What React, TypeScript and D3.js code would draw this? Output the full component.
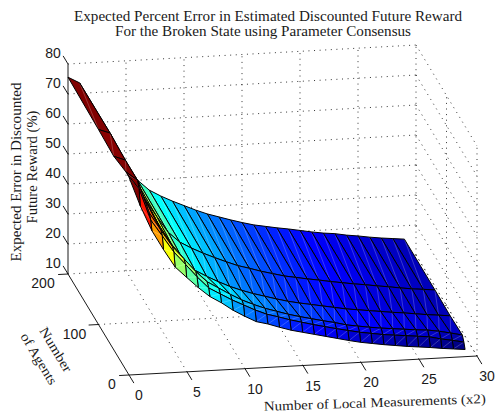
import React from 'react';
import * as d3 from 'd3';

const measurements = d3.range(0, 30);
const agents = [1, 5, 10, 50, 100, 200];

// expected error, one list per agent count
const errorAgents1 = [76, 66, 57.5, 51, 45, 41.3, 37.7, 34.5, 32.2, 29.5, 27.3, 25.3, 24.3, 23, 21.8, 20.9, 20, 19.1, 18.2, 17.3, 16.5, 15.9, 15.3, 14.8, 14.3, 13.9, 13.5, 13, 12.6, 12.2];
const errorAgents5 = [76, 71, 60.4, 54.9, 49.3, 45, 40.6, 36.7, 34.5, 32.3, 30.4, 28.5, 26.9, 25.8, 24.6, 23.6, 22.6, 21.7, 20.8, 20, 19.2, 18.6, 18, 17.6, 17.2, 16.8, 16.4, 15.5, 14.8, 14];
const errorAgents10 = [76, 73, 62, 56, 50.3, 46, 41.6, 37.9, 35.6, 33.3, 31.2, 29.5, 28, 26.8, 25.6, 24.6, 23.7, 22.8, 22, 21, 20.4, 19.8, 19.3, 18.9, 18.5, 18.1, 17.8, 17.2, 16.4, 15.5];
const errorAgents50 = [74.5, 73, 64, 57, 50, 44, 38.5, 35, 32.8, 30.8, 29, 27.5, 26.2, 25.1, 24, 23, 22.2, 21.5, 20.8, 20.1, 19.4, 18.9, 18.4, 17.9, 17.4, 17, 16.5, 16, 15.6, 15.2];
const errorAgents100 = [75, 73.6, 65, 58, 51, 45, 39.5, 36, 33.8, 31.9, 30.2, 28.6, 27.1, 26, 24.8, 23.8, 22.8, 22.1, 21.4, 20.8, 20.1, 19.5, 18.9, 18.4, 17.8, 17.3, 16.7, 16.2, 15.8, 15.4];
const errorAgents200 = [75.6, 73.5, 65.9, 59, 52.5, 45.8, 40, 36.5, 34.3, 32.4, 30.7, 29, 27.5, 26.3, 25.1, 24, 23, 22.3, 21.6, 21, 20.3, 19.6, 19, 18.6, 17.9, 17.4, 16.8, 16.3, 15.9, 15.5];
const errors = [errorAgents1, errorAgents5, errorAgents10, errorAgents50, errorAgents100, errorAgents200];

const xTicks = [0, 5, 10, 15, 20, 25, 30];
const yTicks = [0, 100, 200];
const zTicks = [10, 20, 30, 40, 50, 60, 70, 80];

const titleLines = [
  'Expected Percent Error in Estimated Discounted Future Reward',
  'For the Broken State using Parameter Consensus',
];

// the axes box as it lands on screen (matlab style orthographic view)
const origin = [129, 375];
const xVec = [348, -19];
const yVec = [-61, -101];
const zVec = [0, -210];

const xScale = d3.scaleLinear().domain([0, 30]).range([0, 1]);
const yScale = d3.scaleLinear().domain([0, 200]).range([0, 1]);
const zScale = d3.scaleLinear().domain([10, 80]).range([0, 1]);

const project = (x: number, y: number, z: number): [number, number] => {
  const u = xScale(x), v = yScale(y), w = zScale(z);
  return [
    origin[0] + u * xVec[0] + v * yVec[0] + w * zVec[0],
    origin[1] + u * xVec[1] + v * yVec[1] + w * zVec[1],
  ];
};

const jet = d3.scaleLinear<string>()
  .domain([0, 0.125, 0.375, 0.625, 0.875, 1])
  .range(['#000080', '#0000ff', '#00ffff', '#ffff00', '#ff0000', '#800000']);

const colorScale = d3.scaleLinear()
  .domain([d3.min(errors.flat()) as number, 75])
  .range([0, 1])
  .clamp(true);

const line = d3.line();
const closed = d3.line().curve(d3.curveLinearClosed);

const seg = (a: [number, number], b: [number, number]) => line([a, b]) as string;

const sans = '"Liberation Sans", Arial, sans-serif';
const serif = '"Liberation Serif", serif';
const inkColor = '#1a1a1a';
const dots = '1 4.6';

export default function App() {
  // far faces first, right to left so the steep ridge ends up on top
  const faces: React.ReactNode[] = [];
  for (let i = measurements.length - 2; i >= 0; i--) {
    for (let j = agents.length - 2; j >= 0; j--) {
      const a = project(measurements[i], agents[j], errors[j][i]);
      const b = project(measurements[i + 1], agents[j], errors[j][i + 1]);
      const c = project(measurements[i + 1], agents[j + 1], errors[j + 1][i + 1]);
      const d = project(measurements[i], agents[j + 1], errors[j + 1][i]);
      faces.push(
        <g key={`${i}-${j}`}>
          <path d={closed([a, b, c, d]) as string} fill={jet(colorScale(errors[j][i]))} stroke="none" />
          <path d={seg(a, c)} stroke="#fff" strokeOpacity={0.28} strokeWidth={0.8} fill="none" />
          <path d={closed([a, b, c, d]) as string} fill="none" stroke="#000" strokeWidth={1} strokeLinejoin="round" />
        </g>
      );
    }
  }

  return (
    <svg width={498} height={416} style={{ position: 'absolute', left: 0, top: 0, background: '#fff' }}>
      {/* grid on back wall, side wall and floor */}
      <g stroke="#000" strokeWidth={0.8} strokeDasharray={dots} fill="none">
        {zTicks.map(z => <path key={`bz${z}`} d={seg(project(0, 200, z), project(30, 200, z))} />)}
        {zTicks.map(z => <path key={`sz${z}`} d={seg(project(30, 200, z), project(30, 0, z))} />)}
        {xTicks.slice(1).map(x => <path key={`bx${x}`} d={seg(project(x, 200, 10), project(x, 200, 80))} />)}
        {yTicks.slice(0, 2).map(y => <path key={`sy${y}`} d={seg(project(30, y, 10), project(30, y, 80))} />)}
        {xTicks.slice(1, 7).map(x => <path key={`fx${x}`} d={seg(project(x, 0, 10), project(x, 200, 10))} />)}
        <path d={seg(project(0, 100, 10), project(30, 100, 10))} />
      </g>

      {faces}

      {/* axis lines and ticks */}
      <g stroke="#000" strokeWidth={0.9} fill="none">
        <path d={seg(project(0, 200, 10), project(0, 200, 80))} />
        <path d={seg(project(0, 200, 10), project(0, 0, 10))} />
        <path d={seg(project(0, 0, 10), project(30, 0, 10))} />
        {xTicks.map(x => <path key={x} d={seg(project(x, 0, 10), project(x, -16, 10))} />)}
        {yTicks.map(y => <path key={y} d={seg(project(0, y, 10), project(-0.85, y, 10))} />)}
        {zTicks.map(z => <path key={z} d={seg(project(0, 200, z), project(0, 216, z))} />)}
      </g>

      <g fontFamily={sans} fontSize={14} fill={inkColor} textAnchor="middle" dominantBaseline="central">
        {xTicks.map(x => {
          const [px, py] = project(x, 0, 10);
          return <text key={x} x={px + 10} y={py + 20}>{x}</text>;
        })}
        {yTicks.map(y => {
          const [px, py] = project(0, y, 10);
          return <text key={y} x={px - (y === 0 ? 17 : y === 100 ? 24 : 25)} y={py + 9}>{y}</text>;
        })}
        {zTicks.map(z => {
          const [px, py] = project(0, 200, z);
          return <text key={z} x={px - 15} y={py - 11}>{z}</text>;
        })}
      </g>

      <g fontFamily={serif} fill={inkColor} fontSize={13.6} textAnchor="middle">
        <text x={268} y={21} textLength={388} lengthAdjust="spacingAndGlyphs">{titleLines[0]}</text>
        <text x={263} y={36} textLength={296} lengthAdjust="spacingAndGlyphs">{titleLines[1]}</text>
        <text transform="translate(21,172) rotate(-90)" fontSize={14.5} textLength={179} lengthAdjust="spacingAndGlyphs">Expected Error in Discounted</text>
        <text transform="translate(37,167) rotate(-90)" fontSize={14.5} textLength={113} lengthAdjust="spacingAndGlyphs">Future Reward (%)</text>
        <text transform="translate(52,352) rotate(59)" fontSize={13.5} textLength={50} lengthAdjust="spacingAndGlyphs">Number</text>
        <text transform="translate(35,361) rotate(59)" fontSize={13.5} textLength={58} lengthAdjust="spacingAndGlyphs">of Agents</text>
        <text transform="translate(375,407) rotate(-2)" fontSize={13.5} textLength={222} lengthAdjust="spacingAndGlyphs">Number of Local Measurements (x2)</text>
      </g>
    </svg>
  );
}
